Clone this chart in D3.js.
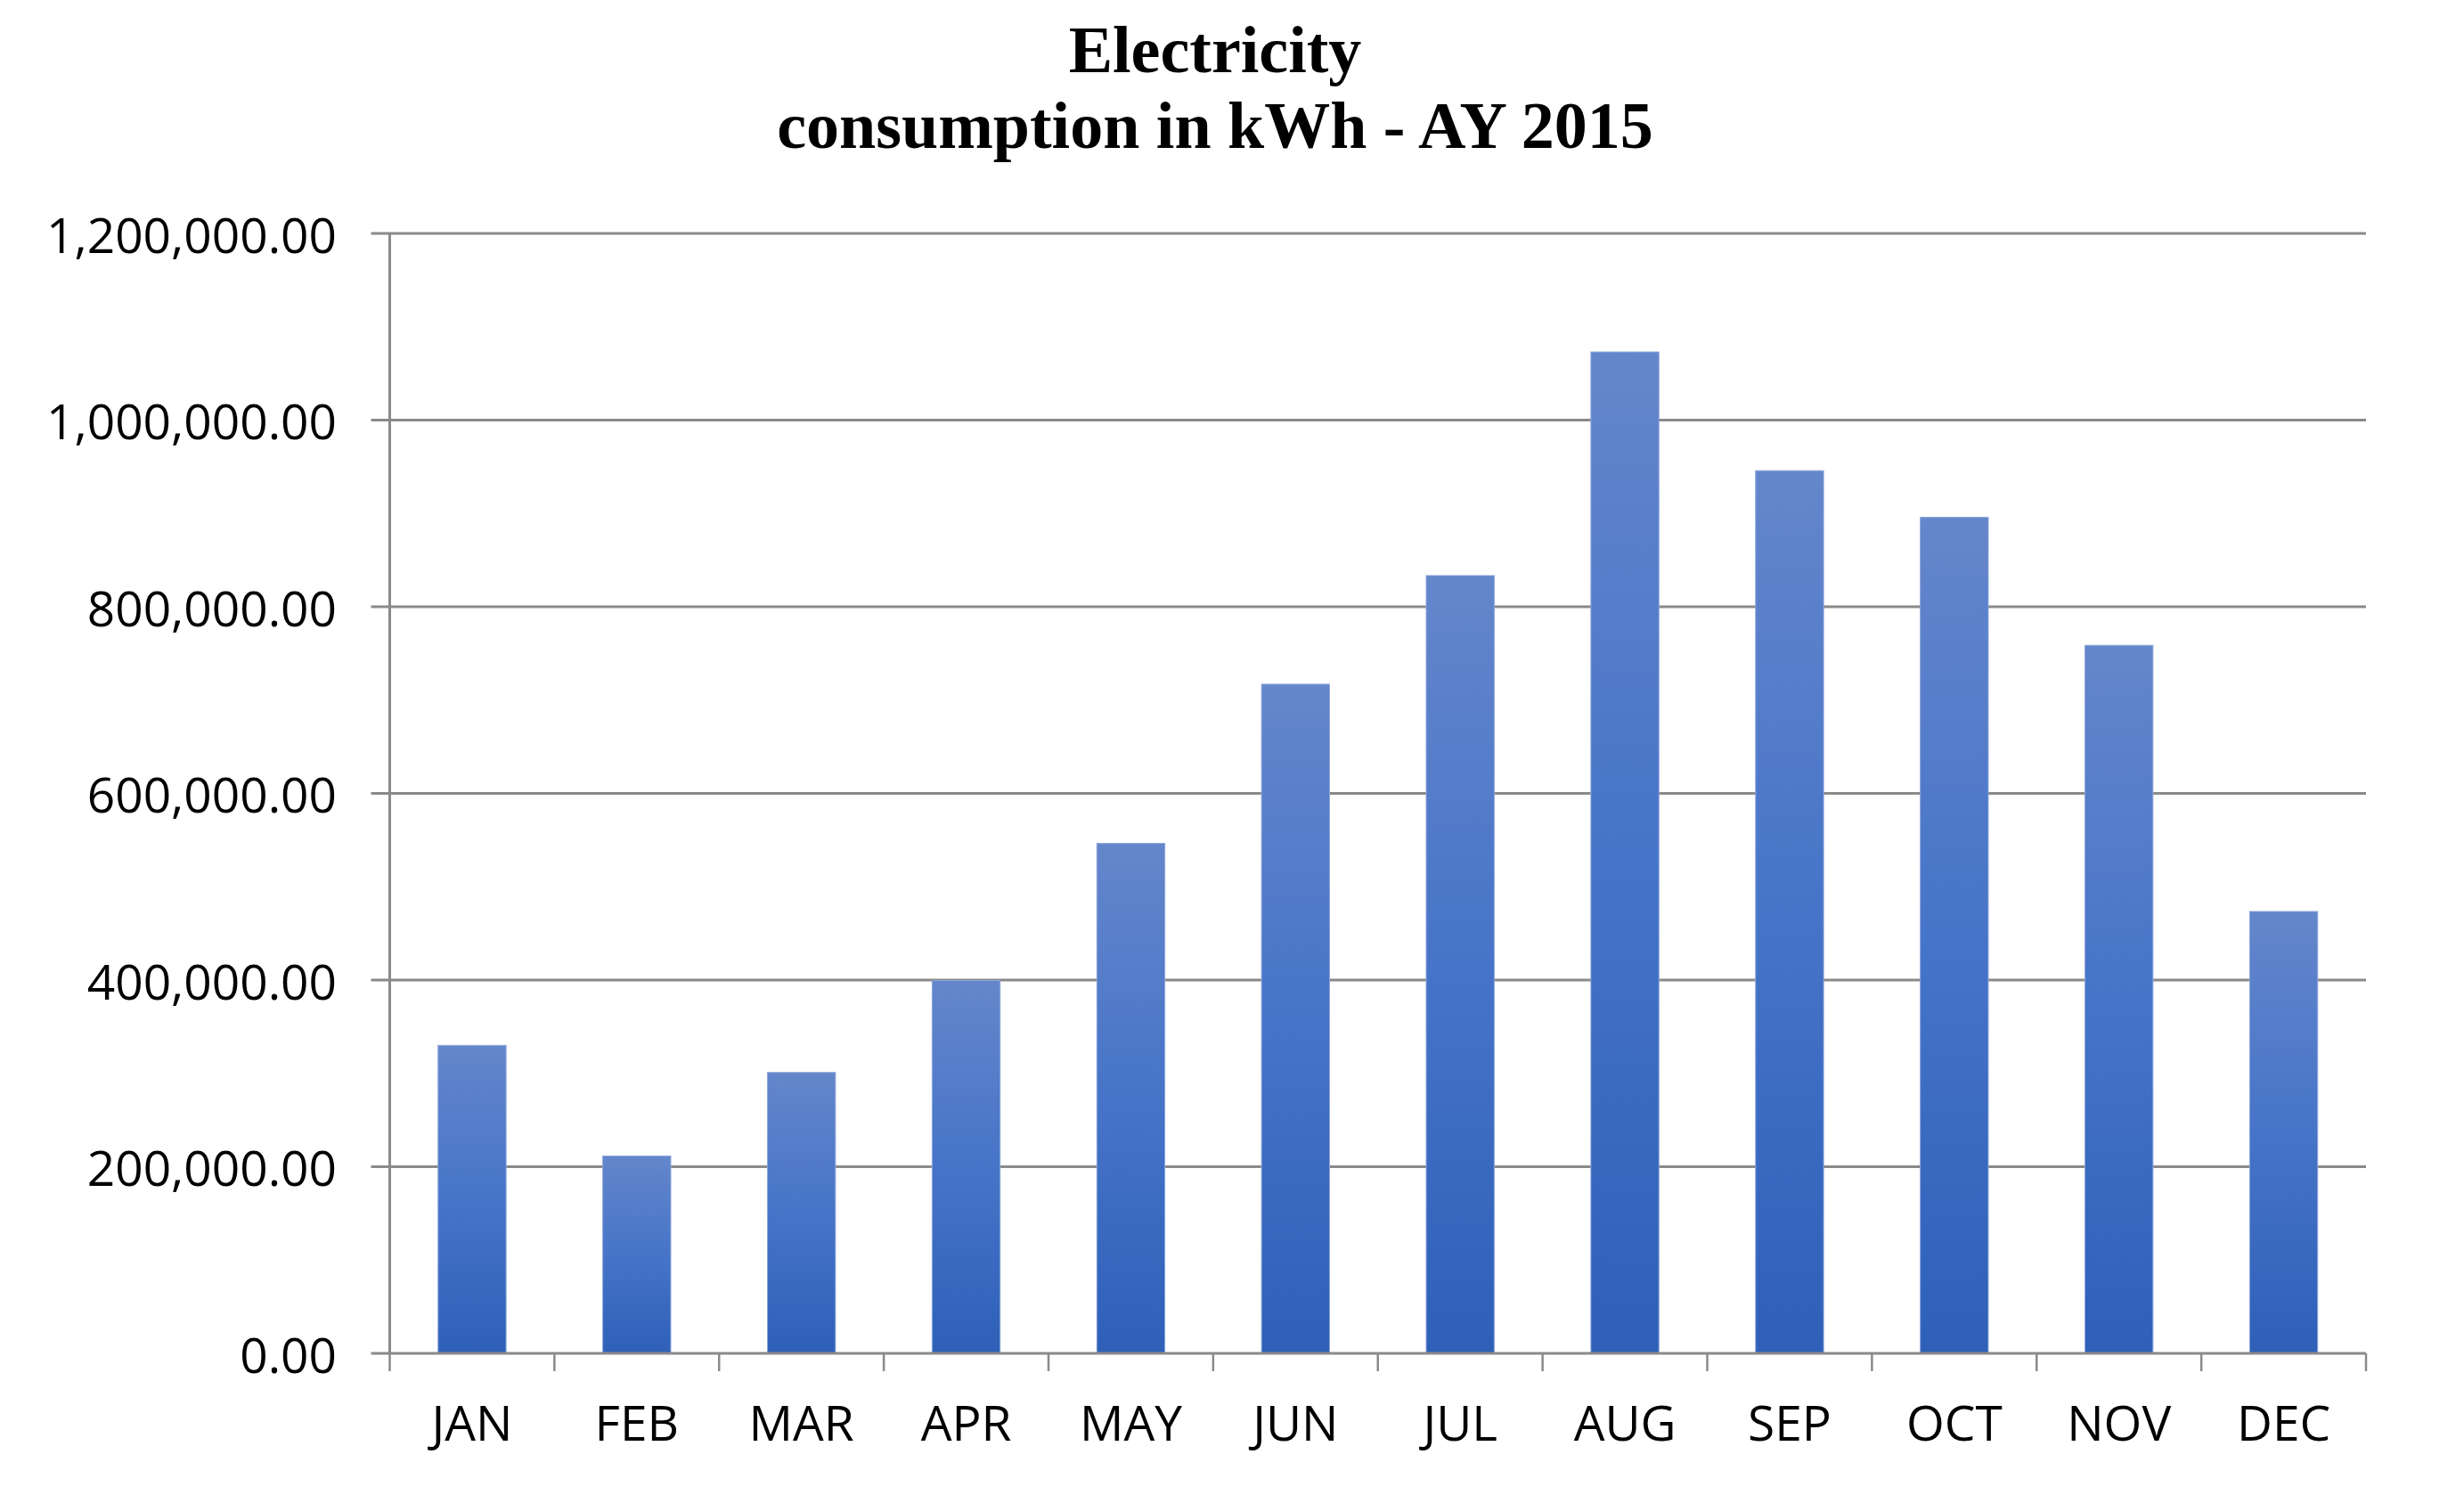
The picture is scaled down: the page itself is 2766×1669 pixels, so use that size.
<!DOCTYPE html>
<html>
<head>
<meta charset="utf-8">
<script src="https://cdn.jsdelivr.net/npm/d3@7"></script>
<style>
  html, body { margin: 0; padding: 0; background: #fff; }
  svg { display: block; }
</style>
</head>
<body>
<svg id="chart" width="2766" height="1669"></svg>
<script>
// ---- data ----
const months = ["JAN","FEB","MAR","APR","MAY","JUN","JUL","AUG","SEP","OCT","NOV","DEC"];
const consumption = [330000, 211500, 301000, 399500, 546400, 717000, 833400, 1073000, 945800, 895800, 758700, 473500];
const yTicks = [0, 200000, 400000, 600000, 800000, 1000000, 1200000];
const titleLines = ["Electricity", "consumption in kWh - AY 2015"];

(function () {
// ---- layout ----
const plotLeft = 437.5, plotRight = 2656, plotTop = 262, plotBottom = 1519;
const svg = d3.select("#chart");

const x = d3.scaleBand().domain(months).range([plotLeft, plotRight]).paddingInner(0.587).paddingOuter(0.2935);
const y = d3.scaleLinear().domain([0, 1200000]).range([plotBottom, plotTop]);

// gradient
const defs = svg.append("defs");
const grad = defs.append("linearGradient").attr("id", "barGrad")
  .attr("x1", 0).attr("y1", 0).attr("x2", 0).attr("y2", 1);
grad.append("stop").attr("offset", "0%").attr("stop-color", "#6486cb");
grad.append("stop").attr("offset", "50%").attr("stop-color", "#4674c8");
grad.append("stop").attr("offset", "100%").attr("stop-color", "#2e60b8");

const gridColor = "#8a8a8a";

// gridlines (with left tick extension)
svg.append("g").selectAll("line").data(yTicks.slice(1)).join("line")
  .attr("x1", plotLeft - 21).attr("x2", plotRight)
  .attr("y1", d => y(d)).attr("y2", d => y(d))
  .attr("stroke", gridColor).attr("stroke-width", 2.8);

// y labels
const fmt = d3.format(",.2f");
svg.append("g").selectAll("text").data(yTicks).join("text")
  .attr("x", 378).attr("y", d => y(d))
  .attr("text-anchor", "end").attr("dominant-baseline", "central")
  .attr("font-family", "'Open Sans', sans-serif").attr("font-size", 55)
  .attr("fill", "#000")
  .text(d => fmt(d));

// bars
svg.append("g").selectAll("rect").data(consumption).join("rect")
  .attr("x", (d, i) => x(months[i]))
  .attr("width", x.bandwidth())
  .attr("y", d => y(d))
  .attr("height", d => y(0) - y(d))
  .attr("fill", "url(#barGrad)")
  .attr("stroke", "#8ea6da").attr("stroke-width", 1);

// y axis line
svg.append("line").attr("x1", plotLeft).attr("x2", plotLeft).attr("y1", plotTop).attr("y2", plotBottom)
  .attr("stroke", gridColor).attr("stroke-width", 3);

// x axis line
svg.append("line").attr("x1", plotLeft - 21).attr("x2", plotRight).attr("y1", plotBottom).attr("y2", plotBottom)
  .attr("stroke", gridColor).attr("stroke-width", 3);

// x ticks at band boundaries
const bounds = months.map(m => x(m) - x.step() * x.paddingInner() / 2);
bounds.push(plotRight);
svg.append("g").selectAll("line").data(bounds).join("line")
  .attr("x1", d => d).attr("x2", d => d)
  .attr("y1", plotBottom).attr("y2", plotBottom + 20)
  .attr("stroke", gridColor).attr("stroke-width", 2.5);

// x labels
svg.append("g").selectAll("text").data(months).join("text")
  .attr("x", d => x(d) + x.bandwidth() / 2).attr("y", 1617)
  .attr("text-anchor", "middle")
  .attr("font-family", "'Open Sans', sans-serif").attr("font-size", 55)
  .attr("fill", "#000")
  .text(d => d);

// title
svg.append("g").selectAll("text").data(titleLines).join("text")
  .attr("x", 1364).attr("y", (d, i) => 81 + i * 85)
  .attr("text-anchor", "middle")
  .attr("font-family", "'Liberation Serif', 'Times New Roman', serif")
  .attr("font-weight", "bold").attr("font-size", 74)
  .attr("fill", "#000")
  .text(d => d);
})();
</script>
</body>
</html>
